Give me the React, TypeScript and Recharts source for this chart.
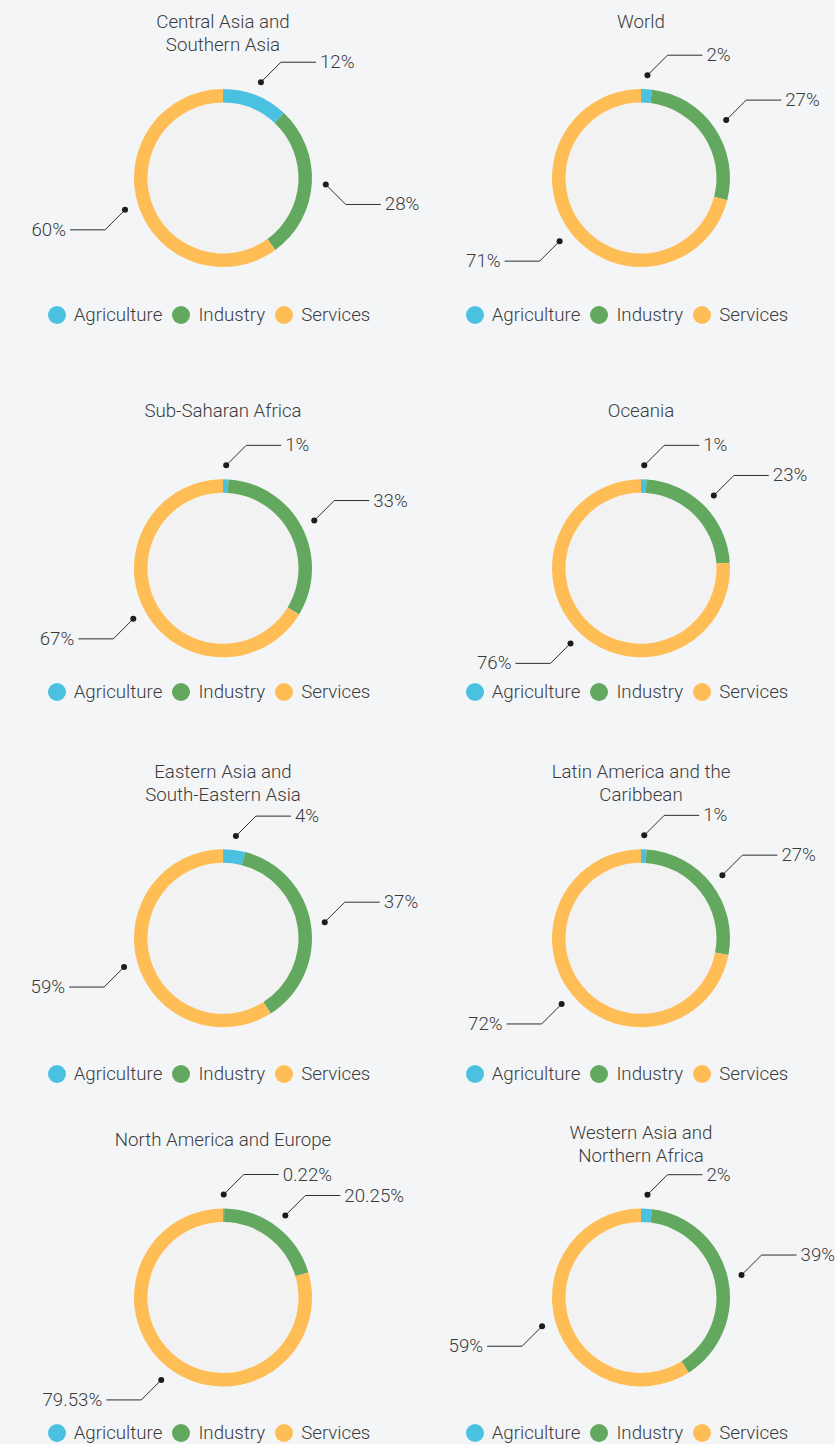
import { PieChart, Pie, Cell, Legend } from 'recharts';

const regions = [
  'Central Asia and\nSouthern Asia',
  'World',
  'Sub-Saharan Africa',
  'Oceania',
  'Eastern Asia and\nSouth-Eastern Asia',
  'Latin America and the\nCaribbean',
  'North America and Europe',
  'Western Asia and\nNorthern Africa',
];
const sectors = ['Agriculture', 'Industry', 'Services'];
const agriculture = [12, 2, 1, 1, 4, 1, 0.22, 2];
const industry = [28, 27, 33, 23, 37, 27, 20.25, 39];
const services = [60, 71, 67, 76, 59, 72, 79.53, 59];

const COLORS = ['#4bc1e2', '#63a85f', '#ffbd56'];
const FONT = 'Roboto, "Noto Sans", sans-serif';
const FONT_SIZE = 18.7;
const TEXT = '#3b3b3b';
const BG = '#f4f5f7';

// grid layout (2 columns x 4 rows)
const CELL_W = 418;
const rowTop = [0, 390, 755, 1120];
const rowHeight = [390, 365, 365, 324];
const pieY = [178, 178.3, 183.3, 177.5];
const legendY = [315, 301.7, 319.3, 313.3];
const titleY = [22.3, 22.3, 21.7, 21.7, 17.3, 17.3, 20, 13.3];
const PIE_X = 223;
const OUTER = 89;
const INNER = 75.5;

const RAD = Math.PI / 180;

function renderLabel(props: any) {
  const { cx, cy, midAngle, outerRadius, value } = props;
  const cos = Math.cos(-midAngle * RAD);
  const sin = Math.sin(-midAngle * RAD);
  const r = outerRadius + 14;
  const x0 = cx + r * cos;
  const y0 = cy + r * sin;
  const sx = cos >= 0 ? 1 : -1;
  const sy = sin >= 0 ? 1 : -1;
  const x1 = x0 + 20 * sx;
  const y1 = y0 + 20 * sy;
  const x2 = x1 + 35 * sx;
  return (
    <g>
      <polyline
        points={`${x0},${y0} ${x1},${y1} ${x2},${y1}`}
        fill="none"
        stroke="#2e2e2e"
        strokeWidth={1}
      />
      <circle cx={x0} cy={y0} r={3} fill="#1c1c1c" />
      <text
        x={x2 + 4 * sx}
        y={y1}
        textAnchor={sx > 0 ? 'start' : 'end'}
        dominantBaseline="central"
        fontFamily={FONT}
        fontWeight={300}
        fontSize={FONT_SIZE}
        fill={TEXT}
      >
        {value}%
      </text>
    </g>
  );
}

const renderLegend = () => (
  <div
    style={{
      display: 'flex',
      justifyContent: 'center',
      alignItems: 'center',
      height: 24,
      fontFamily: FONT,
      fontWeight: 300,
      fontSize: FONT_SIZE,
      color: TEXT,
    }}
  >
    {sectors.map((s, i) => (
      <span key={s} style={{ display: 'flex', alignItems: 'center', marginRight: i < sectors.length - 1 ? 10 : 0 }}>
        <span
          style={{
            width: 18,
            height: 18,
            borderRadius: '50%',
            background: COLORS[i],
            marginRight: 8,
            display: 'inline-block',
          }}
        />
        {s}
      </span>
    ))}
  </div>
);

function RegionDonut({ index }: { index: number }) {
  const row = Math.floor(index / 2);
  const col = index % 2;
  const data = sectors.map((name, i) => ({
    name,
    value: [agriculture, industry, services][i][index],
  }));
  const cy = pieY[row];
  return (
    <div
      style={{
        position: 'absolute',
        left: col * CELL_W,
        top: rowTop[row],
        width: CELL_W,
        height: rowHeight[row],
      }}
    >
      <div
        style={{
          position: 'absolute',
          left: PIE_X - INNER,
          top: cy - INNER,
          width: INNER * 2,
          height: INNER * 2,
          borderRadius: '50%',
          background: '#f2f2f2',
        }}
      />
      <div
        style={{
          position: 'absolute',
          left: PIE_X - 160,
          width: 320,
          top: titleY[index] - 11.25,
          textAlign: 'center',
          whiteSpace: 'pre-line',
          lineHeight: '22.5px',
          fontFamily: FONT,
          fontWeight: 300,
          fontSize: FONT_SIZE,
          color: TEXT,
        }}
      >
        {regions[index]}
      </div>
      <PieChart width={CELL_W} height={rowHeight[row]} margin={{ top: 0, right: 0, bottom: 0, left: 0 }}>
        <Pie
          data={data}
          dataKey="value"
          nameKey="name"
          cx={PIE_X}
          cy={cy}
          innerRadius={INNER}
          outerRadius={OUTER}
          startAngle={90}
          endAngle={-270}
          stroke="none"
          label={renderLabel}
          labelLine={false}
          isAnimationActive={false}
        >
          {data.map((d, i) => (
            <Cell key={d.name} fill={COLORS[i]} />
          ))}
        </Pie>
        <Legend
          content={renderLegend}
          verticalAlign="bottom"
          wrapperStyle={{ top: legendY[row] - 12, bottom: 'auto', left: 0, width: CELL_W }}
        />
      </PieChart>
    </div>
  );
}

export default function App() {
  return (
    <div style={{ position: 'relative', width: 835, height: 1444, background: BG, overflow: 'hidden' }}>
      <style>{`body{margin:0;background:${BG}}.recharts-surface{overflow:visible}`}</style>
      {regions.map((_, i) => (
        <RegionDonut key={i} index={i} />
      ))}
    </div>
  );
}
